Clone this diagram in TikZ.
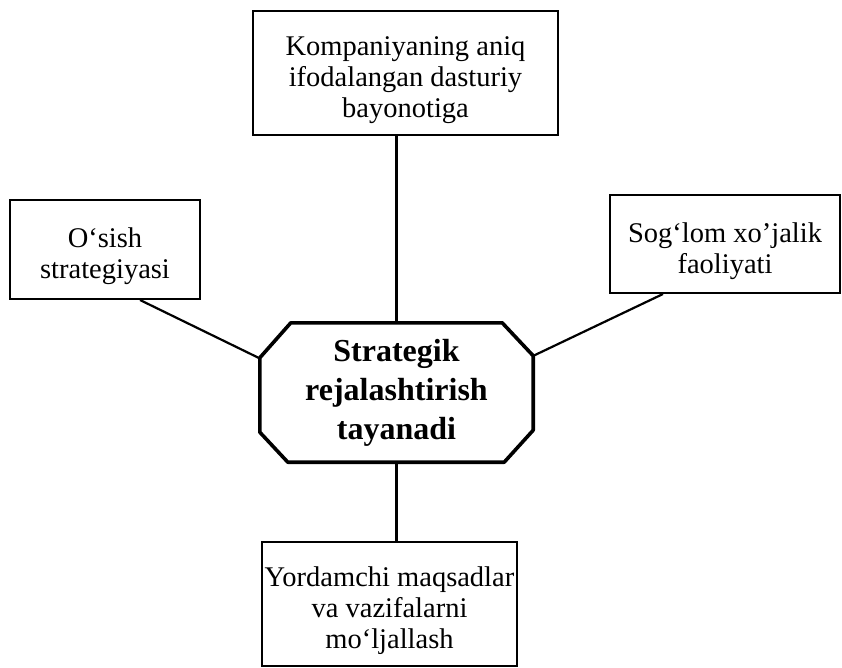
\documentclass[tikz,border=0pt]{standalone}
\usepackage{fontspec}
\setmainfont{Liberation Serif}

\newcommand{\topgap}{\rule{0pt}{34pt}}

\begin{document}
\begin{tikzpicture}[
    x=1pt, y=1pt,
    box/.style={
        draw,
        rectangle,
        line width=2pt,
        align=center,
        inner sep=1pt,
        font=\fontsize{28.5}{31}\selectfont
    },
    hub/.style={
        rectangle,
        minimum width=273pt,
        minimum height=139pt,
        align=center,
        inner sep=1pt,
        font=\bfseries\fontsize{32}{39}\selectfont
    },
    hubline/.style={
        line width=3.6pt,
        line join=round
    },
    link/.style={
        line width=2.2pt
    }
    ]
    \useasboundingbox (0,0) rectangle (842,-668);

    \node[hub] (CORE) at (396.5,-392.5) {Strategik\\rejalashtirish\\tayanadi};
    % chamfered frame round the centre
    \draw[hubline] ([xshift=31pt]CORE.north west) -- ([xshift=-31pt]CORE.north east)
        -- ([yshift=-33pt]CORE.north east) -- ([yshift=32pt]CORE.south east)
        -- ([xshift=-29pt]CORE.south east) -- ([xshift=28pt]CORE.south west)
        -- ([yshift=30pt]CORE.south west) -- ([yshift=-35pt]CORE.north west) -- cycle;

    \node[box,minimum width=305pt,minimum height=124pt] (GOAL) at (405.5,-73)
        {\topgap Kompaniyaning aniq\\ifodalangan dasturiy\\bayonotiga};
    \node[box,minimum width=190pt,minimum height=99pt] (GROWTH) at (105,-249.5)
        {\topgap O‘sish\\strategiyasi};
    \node[box,minimum width=230pt,minimum height=98pt] (HEALTH) at (725,-244)
        {\topgap Sog‘lom xo’jalik\\faoliyati};
    \node[box,minimum width=255pt,minimum height=124pt] (AIMS) at (389.5,-604)
        {\topgap Yordamchi maqsadlar\\va vazifalarni\\mo‘ljallash};

    \draw[link] (CORE.north) -- (CORE.north |- GOAL.south);
    \draw[link] (CORE.south) -- (CORE.south |- AIMS.north);
    \draw[link] ([xshift=35pt]GROWTH.south) -- (CORE.166);
    \draw[link] ([xshift=-62pt]HEALTH.south) -- (CORE.15);
\end{tikzpicture}
\end{document}
